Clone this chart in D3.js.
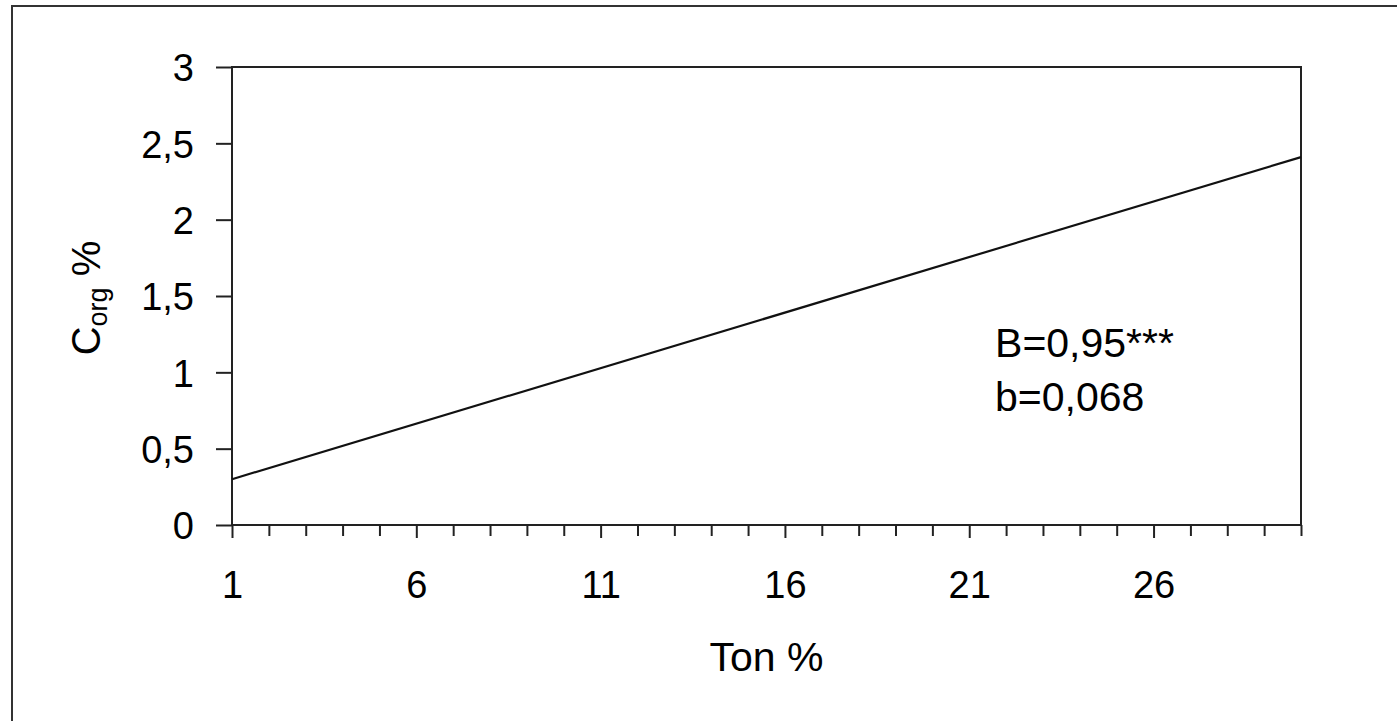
<!DOCTYPE html>
<html>
<head>
<meta charset="utf-8">
<style>
  html, body { margin: 0; padding: 0; background: #fff; }
  svg { display: block; }
  text { font-family: "Liberation Sans", Arial, sans-serif; fill: #000; }
</style>
</head>
<body>
<svg width="1397" height="721"></svg>
<script src="https://d3js.org/d3.v7.min.js"></script>
<script>
// regression line
var lineX = [1, 30];
var lineY = [0.30, 2.41];

var yTicks = [0, 0.5, 1, 1.5, 2, 2.5, 3];
var xTicks = d3.range(1, 31);
var xLabels = [1, 6, 11, 16, 21, 26];

var stats = ["B=0,95***", "b=0,068"];
var xTitle = "Ton %";

var svg = d3.select("svg"),
    margin = {top: 67, right: 96, bottom: 196, left: 232},
    width = +svg.attr("width") - margin.left - margin.right,
    height = +svg.attr("height") - margin.top - margin.bottom;

// outer frame (runs off the right and bottom edge)
svg.append("rect")
    .attr("x", 12).attr("y", 6)
    .attr("width", 1420).attr("height", 760)
    .attr("fill", "none")
    .attr("stroke", "#333")
    .attr("stroke-width", 2);

var g = svg.append("g")
    .attr("transform", "translate(" + margin.left + "," + margin.top + ")");

var x = d3.scaleLinear().domain([1, 30]).range([0, width]);
var y = d3.scaleLinear().domain([0, 3]).range([height, 0]);

var fmt = function(d) { return String(d).replace(".", ","); };

// plot box
g.append("rect")
    .attr("width", width).attr("height", height)
    .attr("fill", "none")
    .attr("stroke", "#222")
    .attr("stroke-width", 2);

var yaxis = g.append("g")
    .call(d3.axisLeft(y).tickValues(yTicks).tickFormat(fmt).tickSize(16).tickPadding(22));

var xaxis = g.append("g")
    .attr("transform", "translate(0," + height + ")")
    .call(d3.axisBottom(x).tickValues(xTicks)
      .tickFormat(function(d) { return xLabels.indexOf(d) >= 0 ? d : ""; })
      .tickSize(12).tickPadding(34));

xaxis.selectAll(".tick line")
    .attr("y2", function(d) { return xLabels.indexOf(d) >= 0 ? 13 : 11; });

g.selectAll(".domain").remove();
g.selectAll(".tick line").attr("stroke", "#222").attr("stroke-width", 2);
g.selectAll(".tick text").style("font-size", "38px").attr("fill", "#000");
yaxis.selectAll(".tick text").attr("dy", "0.36em");
xaxis.selectAll(".tick text").attr("dy", "0.72em");

var line = d3.line()
    .x(function(d) { return x(d[0]); })
    .y(function(d) { return y(d[1]); });

g.append("path")
    .datum(d3.zip(lineX, lineY))
    .attr("fill", "none")
    .attr("stroke", "#111")
    .attr("stroke-width", 2.2)
    .attr("d", line);

// statistics
g.selectAll(".stat")
    .data(stats)
  .enter().append("text")
    .attr("class", "stat")
    .attr("x", x(21.7))
    .attr("y", function(d, i) { return y(1.1) + i * 54; })
    .style("font-size", "41px")
    .text(function(d) { return d; });

// axis titles
g.append("text")
    .attr("x", width / 2)
    .attr("y", height + 146)
    .attr("text-anchor", "middle")
    .style("font-size", "41px")
    .text(xTitle);

var ylab = g.append("text")
    .attr("transform", "translate(-132," + (height / 2 + 2) + ") rotate(-90)")
    .attr("text-anchor", "middle")
    .style("font-size", "40px");
ylab.append("tspan").text("C");
ylab.append("tspan").attr("dy", 7).style("font-size", "27px").text("org");
ylab.append("tspan").attr("dy", -7).text(" %");
</script>
</body>
</html>
